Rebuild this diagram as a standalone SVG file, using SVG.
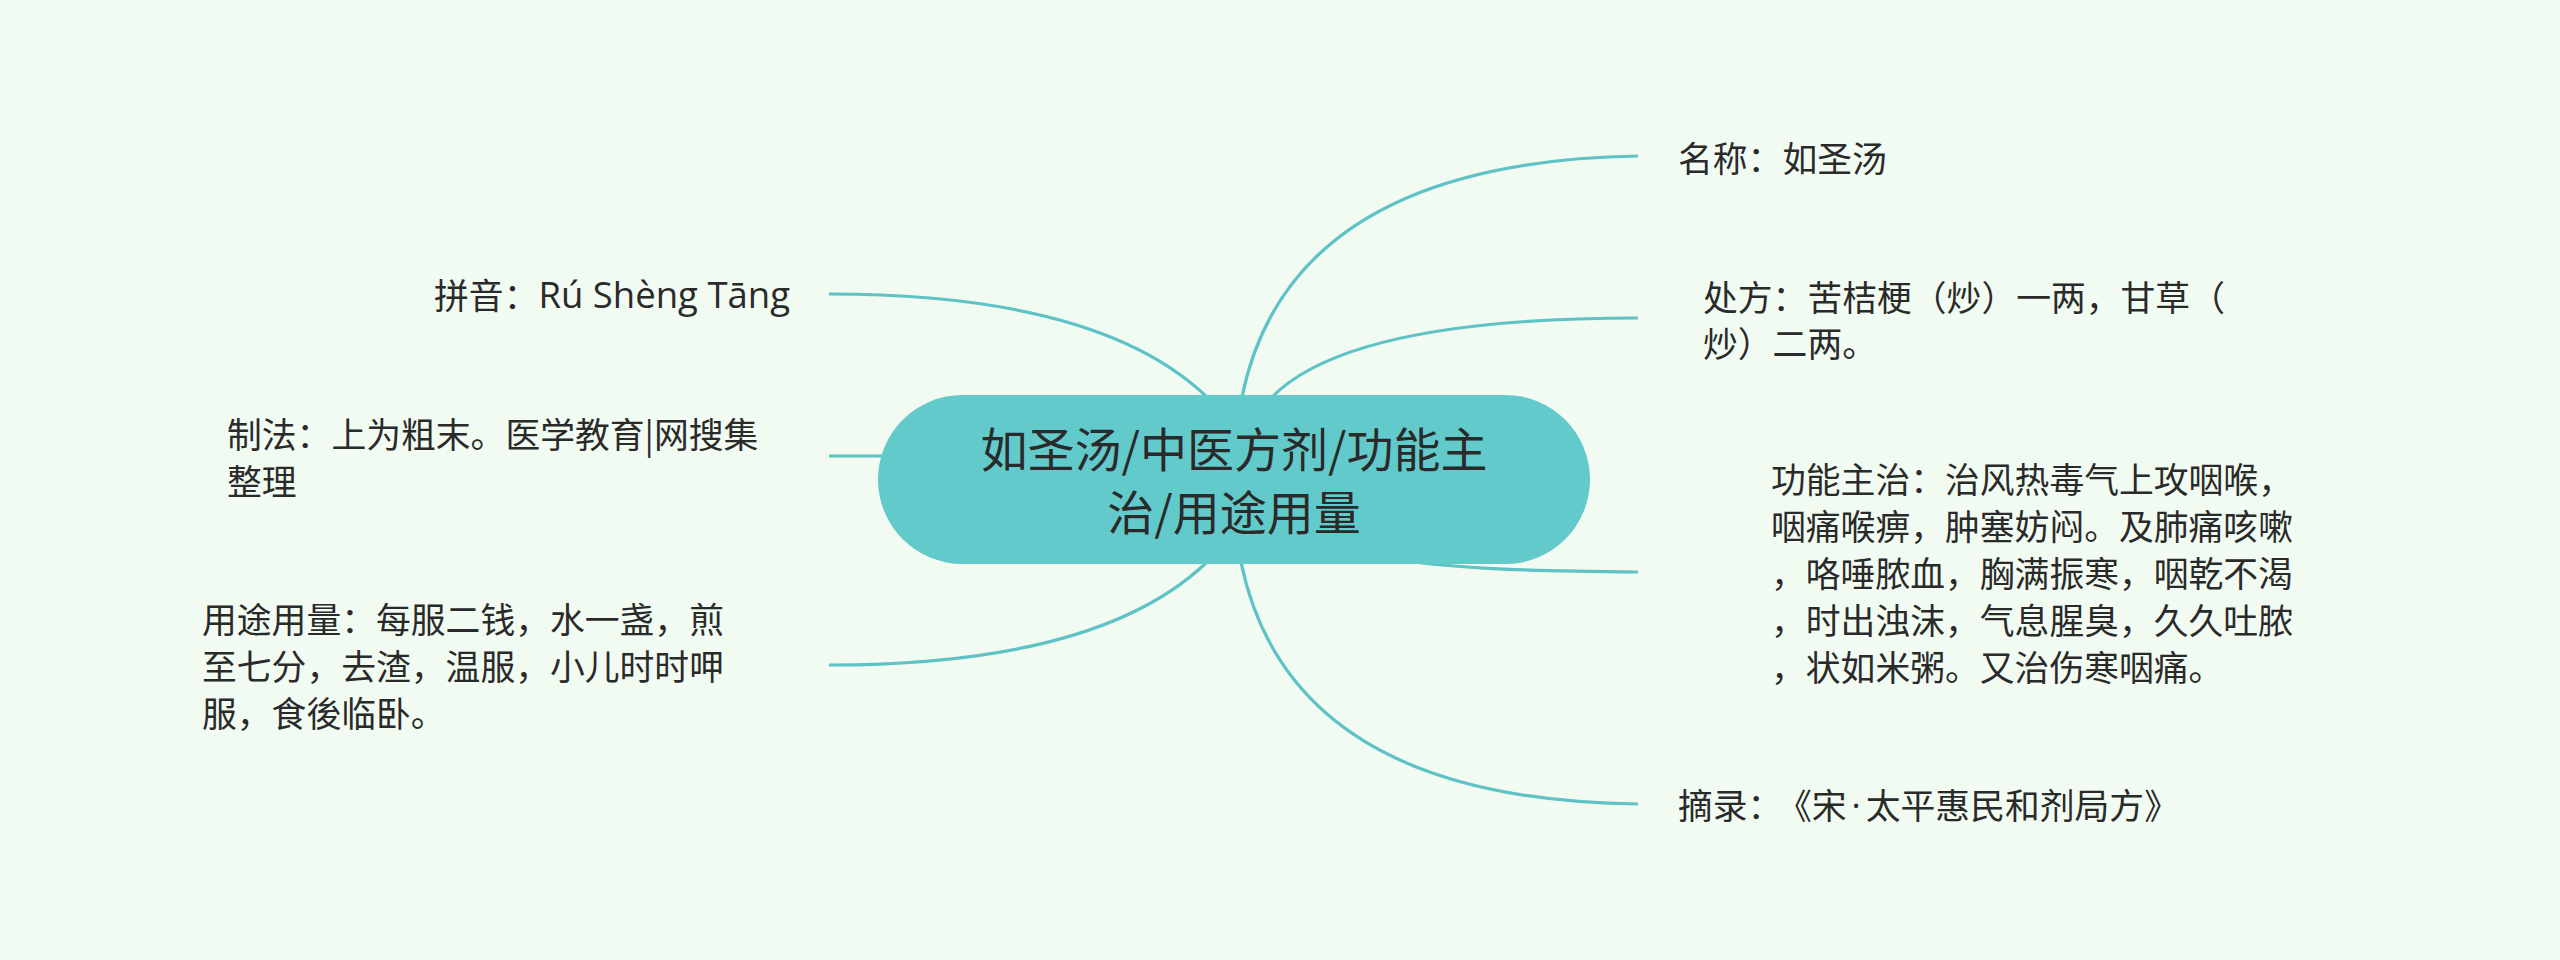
<svg xmlns="http://www.w3.org/2000/svg" width="2560" height="960" viewBox="0 0 2560 960">
  <style>
    .bg { fill: #F1FBF1; }
    .edge { fill: none; stroke: #5EC2C6; stroke-width: 3.2; stroke-linecap: butt; }
    .root-shape { fill: #63CACC; }
    .root-text { font-family: "Noto Sans CJK SC", "Noto Sans", sans-serif; font-size: 47px; fill: #2A2A2A; text-anchor: middle; dominant-baseline: central; }
    .t { font-family: "Noto Sans CJK SC", "Noto Sans", sans-serif; font-size: 34.8px; fill: #2A2A2A; dominant-baseline: central; }
    .lat { font-family: "Open Sans", "Noto Sans", sans-serif; }
    .end { text-anchor: end; }
  </style>
  <rect class="bg" x="0" y="0" width="2560" height="960"/>

  <g id="connectors">
    <path class="edge" d="M1242 397 Q1290 162 1638 156"/>
    <path class="edge" d="M1272 397 Q1350 318 1638 318"/>
    <path class="edge" d="M1234 480 C1300 560 1400 570 1638 572"/>
    <path class="edge" d="M1241 562 Q1290 800 1638 804"/>
    <path class="edge" d="M1207 397 Q1100 294 829 294"/>
    <path class="edge" d="M829 456 L900 456"/>
    <path class="edge" d="M1207 562 Q1100 665 829 665"/>
  </g>

  <g id="root">
    <rect class="root-shape" x="878" y="395" width="712" height="169" rx="84.5" ry="84.5"/>
    <text class="root-text" x="1234" y="446">如圣汤/中医方剂/功能主</text>
    <text class="root-text" x="1234" y="509">治/用途用量</text>
  </g>

  <g id="node-mingcheng">
    <text class="t" x="1678" y="157">名称：如圣汤</text>
  </g>

  <g id="node-chufang">
    <text class="t" x="1703" y="296">处方：苦桔梗（炒）一两，甘草（</text>
    <text class="t" x="1703" y="342">炒）二两。</text>
  </g>

  <g id="node-gongneng">
    <text class="t" x="1771" y="478">功能主治：治风热毒气上攻咽喉，</text>
    <text class="t" x="1771" y="525">咽痛喉痹，肿塞妨闷。及肺痛咳嗽</text>
    <text class="t" x="1771" y="572">，咯唾脓血，胸满振寒，咽乾不渴</text>
    <text class="t" x="1771" y="619">，时出浊沫，气息腥臭，久久吐脓</text>
    <text class="t" x="1771" y="666">，状如米粥。又治伤寒咽痛。</text>
  </g>

  <g id="node-zhailu">
    <text class="t" x="1678" y="804">摘录：<tspan dx="12">《宋</tspan><tspan class="lat" dx="5">·</tspan><tspan dx="5">太平惠民和剂局方》</tspan></text>
  </g>

  <g id="node-pinyin">
    <text class="t end" x="790" y="294">拼音：<tspan class="lat" font-size="36.5">Rú Shèng Tāng</tspan></text>
  </g>

  <g id="node-zhifa">
    <text class="t" x="227" y="433">制法：上为粗末。医学教育|网搜集</text>
    <text class="t" x="227" y="480">整理</text>
  </g>

  <g id="node-yongtu">
    <text class="t" x="202" y="618">用途用量：每服二钱，水一盏，煎</text>
    <text class="t" x="202" y="665">至七分，去渣，温服，小儿时时呷</text>
    <text class="t" x="202" y="712">服，食後临卧。</text>
  </g>
</svg>
